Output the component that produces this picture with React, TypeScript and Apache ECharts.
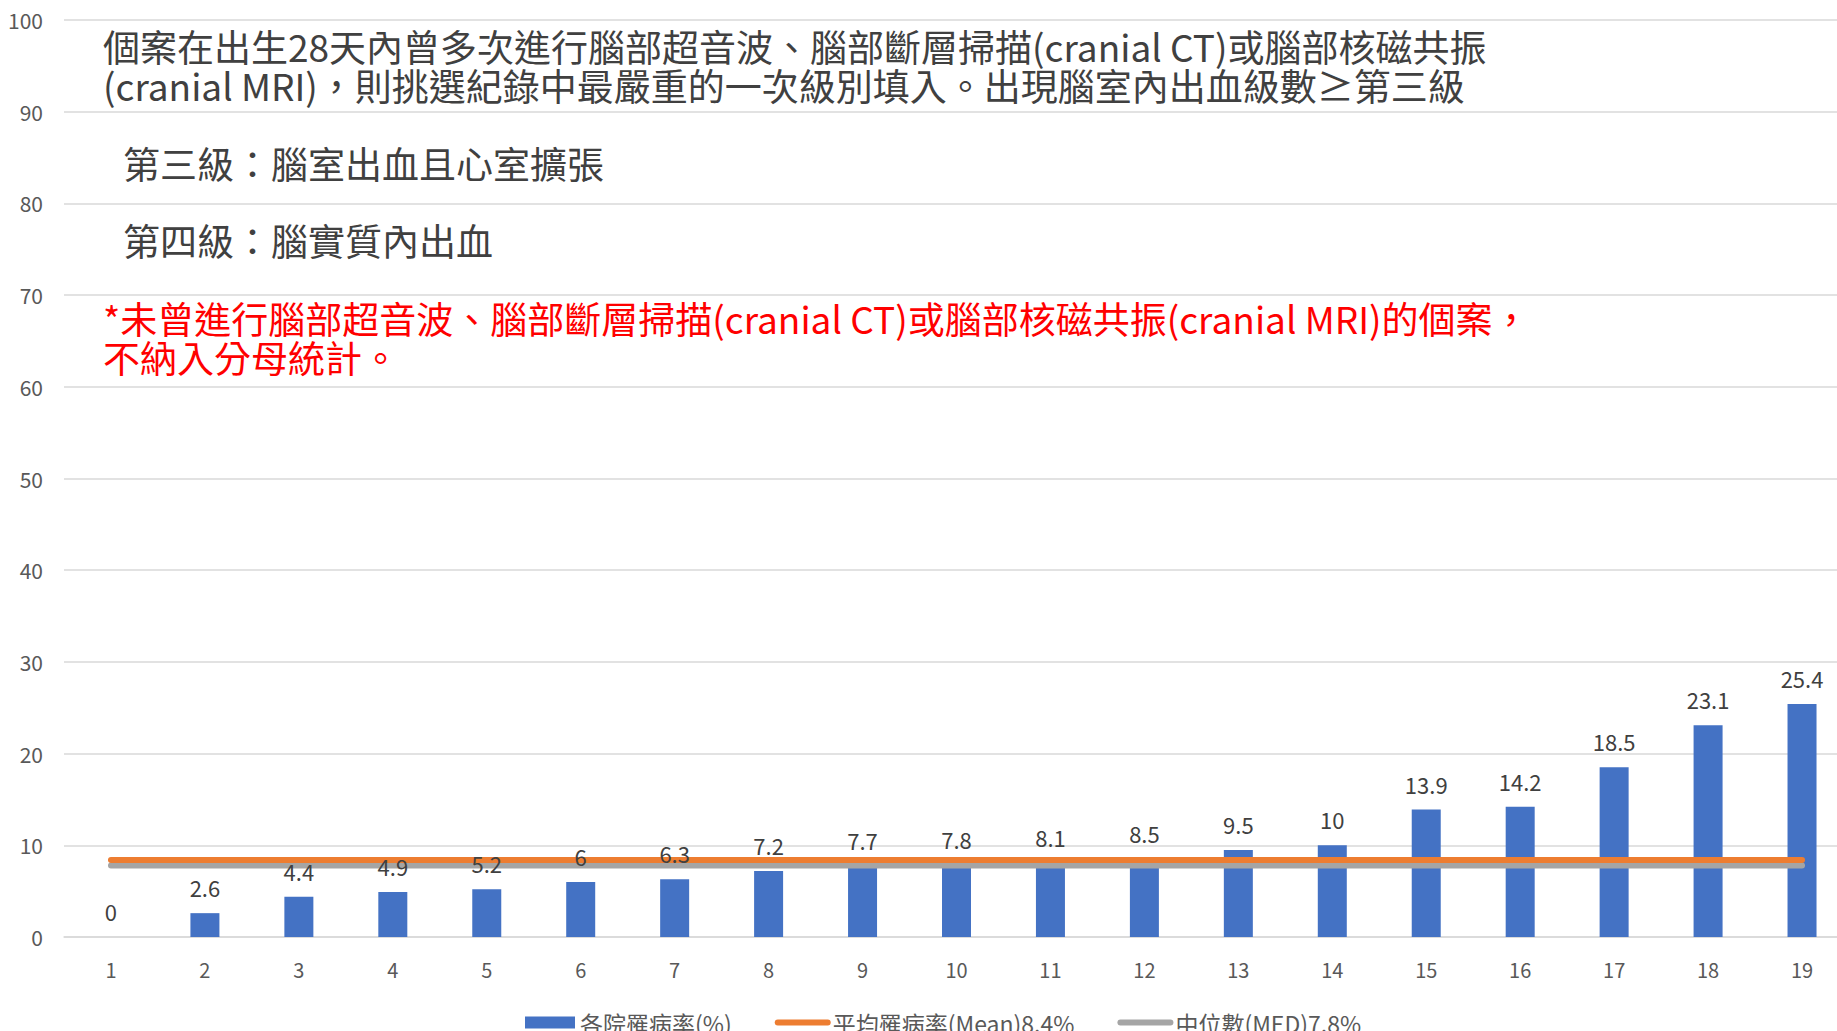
import React, { useEffect, useRef } from "react";
import * as echarts from "echarts";

const categories = ["1","2","3","4","5","6","7","8","9","10","11","12","13","14","15","16","17","18","19"];
const hospitalRates = [0, 2.6, 4.4, 4.9, 5.2, 6, 6.3, 7.2, 7.7, 7.8, 8.1, 8.5, 9.5, 10, 13.9, 14.2, 18.5, 23.1, 25.4];
const meanValues = [8.4, 8.4, 8.4, 8.4, 8.4, 8.4, 8.4, 8.4, 8.4, 8.4, 8.4, 8.4, 8.4, 8.4, 8.4, 8.4, 8.4, 8.4, 8.4];
const medianValues = [7.8, 7.8, 7.8, 7.8, 7.8, 7.8, 7.8, 7.8, 7.8, 7.8, 7.8, 7.8, 7.8, 7.8, 7.8, 7.8, 7.8, 7.8, 7.8];
const seriesNames = ["各院罹病率(%)", "平均罹病率(Mean)8.4%", "中位數(MED)7.8%"];
const noteGray = [
  "個案在出生28天內曾多次進行腦部超音波、腦部斷層掃描(cranial CT)或腦部核磁共振",
  "(cranial MRI)，則挑選紀錄中最嚴重的一次級別填入。出現腦室內出血級數≥第三級",
];
const gradeNotes = ["第三級：腦室出血且心室擴張", "第四級：腦實質內出血"];
const noteRed = [
  "*未曾進行腦部超音波、腦部斷層掃描(cranial CT)或腦部核磁共振(cranial MRI)的個案，",
  "不納入分母統計。",
];

const FONT = "'Noto Sans CJK TC', 'Noto Sans', sans-serif";

export default function App() {
  const ref = useRef<HTMLDivElement>(null);
  useEffect(() => {
    if (!ref.current) return;
    const chart = echarts.init(ref.current, undefined, { renderer: "svg" });
    const txt = (t: string, x: number, y: number, fill: string) => ({
      type: "text",
      x,
      y,
      z: 10,
      style: {
        text: t,
        fill,
        fontSize: 37,
        lineHeight: 39,
        fontFamily: FONT,
        verticalAlign: "middle",
        align: "left",
      },
    });
    chart.setOption({
      animation: false,
      backgroundColor: "#ffffff",
      textStyle: { fontFamily: FONT },
      grid: { left: 64, top: 20, width: 1785, height: 917, containLabel: false },
      xAxis: {
        type: "category",
        data: categories,
        axisLine: { show: true, lineStyle: { color: "#D9D9D9", width: 1.5 } },
        axisTick: { show: false },
        axisLabel: { color: "#595959", fontSize: 20, margin: 22, fontFamily: FONT },
      },
      yAxis: {
        type: "value",
        min: 0,
        max: 100,
        interval: 10,
        axisLine: { show: false },
        axisTick: { show: false },
        axisLabel: { color: "#595959", fontSize: 21, margin: 21, fontFamily: FONT },
        splitLine: { lineStyle: { color: "#D9D9D9", width: 1.5 } },
      },
      legend: {
        left: 520,
        top: 1006,
        itemWidth: 50,
        itemHeight: 12,
        itemGap: 43,
        textStyle: { color: "#595959", fontSize: 23, fontFamily: FONT },
        data: [
          { name: seriesNames[0], icon: "rect" },
          {
            name: seriesNames[1],
            itemStyle: { opacity: 0 },
            lineStyle: { width: 6, cap: "round", color: "#ED7D31" },
          },
          {
            name: seriesNames[2],
            itemStyle: { opacity: 0 },
            lineStyle: { width: 6, cap: "round", color: "#A5A5A5" },
          },
        ],
      },
      graphic: [
        txt(noteGray.join("\n"), 103, 65.5, "#404040"),
        txt(gradeNotes[0], 123, 163, "#404040"),
        txt(gradeNotes[1], 123, 240, "#404040"),
        txt(noteRed.join("\n"), 103, 337.5, "#FF0000"),
      ],
      series: [
        {
          name: seriesNames[0],
          type: "bar",
          data: hospitalRates,
          barWidth: 29,
          itemStyle: { color: "#4472C4" },
          z: 2,
        },
        {
          name: seriesNames[2],
          type: "line",
          data: medianValues,
          symbol: "none",
          lineStyle: { color: "#A5A5A5", width: 6, cap: "round" },
          itemStyle: { color: "#A5A5A5" },
          z: 3,
        },
        {
          name: seriesNames[1],
          type: "line",
          data: meanValues,
          symbol: "none",
          lineStyle: { color: "#ED7D31", width: 6, cap: "round" },
          itemStyle: { color: "#ED7D31" },
          z: 4,
        },
        {
          name: "labels",
          type: "bar",
          data: hospitalRates,
          barWidth: 29,
          barGap: "-100%",
          itemStyle: { color: "rgba(0,0,0,0)" },
          silent: true,
          label: {
            show: true,
            position: "top",
            distance: 15,
            color: "#404040",
            fontSize: 22,
            fontFamily: FONT,
          },
          z: 6,
        },
      ],
    });
    return () => chart.dispose();
  }, []);
  return (
    <div
      ref={ref}
      style={{ position: "fixed", left: 0, top: 0, width: 1850, height: 1031, background: "#fff" }}
    />
  );
}
